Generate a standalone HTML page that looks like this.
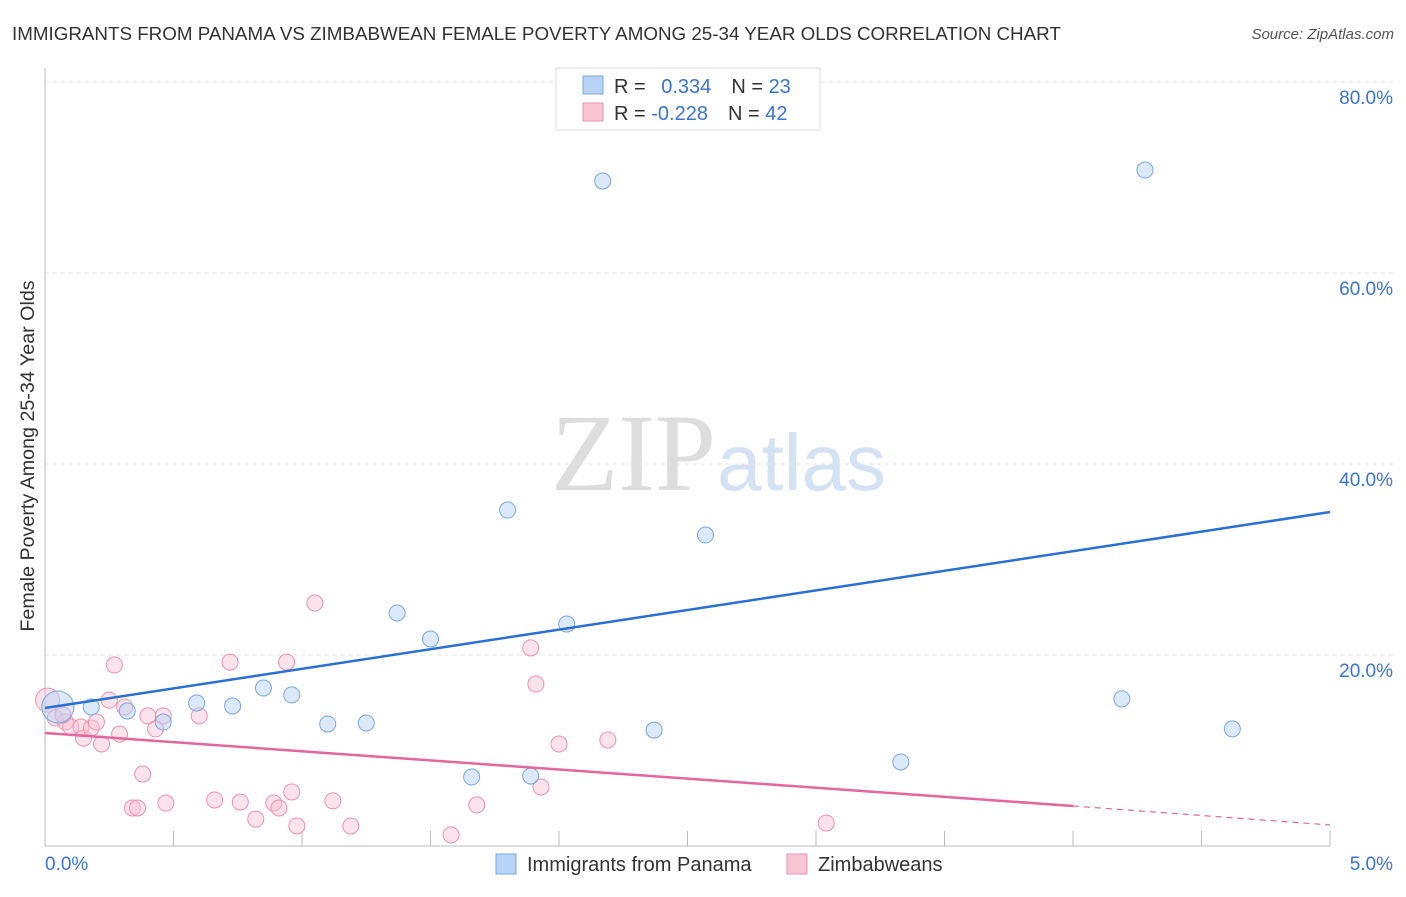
<!DOCTYPE html>
<html><head><meta charset="utf-8"><style>
body{margin:0;background:#fff;font-family:"Liberation Sans",sans-serif;}
</style></head><body>
<svg width="1406" height="892" xmlns="http://www.w3.org/2000/svg" id="svg">
<text x="12" y="40" font-size="18.8" fill="#333">IMMIGRANTS FROM PANAMA VS ZIMBABWEAN FEMALE POVERTY AMONG 25-34 YEAR OLDS CORRELATION CHART</text>
<text x="1394" y="39" font-size="15" fill="#555" font-style="italic" text-anchor="end">Source: ZipAtlas.com</text>
<text x="716" y="490" font-size="110" fill="#ddd" text-anchor="end" font-family="Liberation Serif,serif">ZIP</text>
<text x="717" y="490" font-size="80" fill="#d5e2f3">atlas</text>
<text x="34" y="456" font-size="19.7" fill="#333" text-anchor="middle" transform="rotate(-90 34 456)">Female Poverty Among 25-34 Year Olds</text>
<g id="grid"></g><g id="pts"></g><g id="lines"></g>
<g>
<rect x="556" y="68" width="264" height="62" fill="#fff" stroke="#ddd"/>
<rect x="583" y="76" width="20" height="18" fill="#b8d3f5" stroke="#7aa7e0"/>
<rect x="583" y="103" width="20" height="18" fill="#f9c5d5" stroke="#ec93b0"/>
<text x="614" y="93" font-size="20" fill="#333">R = <tspan fill="#3a74d4" dx="10">0.334</tspan><tspan dx="20" fill="#333">N = </tspan><tspan fill="#3a74d4">23</tspan></text>
<text x="614" y="120" font-size="20" fill="#333">R = <tspan fill="#3a74d4">-0.228</tspan><tspan dx="20" fill="#333">N = </tspan><tspan fill="#3a74d4">42</tspan></text>
</g>
<g>
<rect x="496" y="854" width="20" height="20" fill="#b8d3f5" stroke="#7aa7e0"/>
<text x="527" y="871" font-size="20" fill="#333">Immigrants from Panama</text>
<rect x="787" y="854" width="20" height="20" fill="#f9c5d5" stroke="#ec93b0"/>
<text x="818" y="871" font-size="20" fill="#333">Zimbabweans</text>
</g>
</svg>
<script>
const blueX=[0.05,0.18,0.32,0.46,0.59,0.73,0.85,0.96,1.10,1.25,1.37,1.50,1.66,1.80,1.89,2.03,2.17,2.37,2.57,3.33,4.19,4.28,4.62];
const blueY=[14.56,14.56,14.14,12.98,14.98,14.66,16.54,15.82,12.78,12.88,24.4,21.68,7.22,35.18,7.32,23.24,69.64,12.14,32.56,8.8,15.4,70.78,12.26];
const pinkX=[0.01,0.04,0.08,0.10,0.14,0.15,0.18,0.20,0.22,0.25,0.27,0.29,0.31,0.34,0.36,0.38,0.40,0.43,0.46,0.47,0.60,0.66,0.72,0.76,0.82,0.89,0.91,0.94,0.96,0.98,1.05,1.12,1.19,1.58,1.68,1.89,1.91,1.93,2.00,2.19,3.04,0.07];
const pinkY=[15.28,13.4,12.98,12.46,12.46,11.3,12.36,12.98,10.68,15.28,18.96,11.72,14.56,3.98,3.98,7.54,13.62,12.26,13.62,4.5,13.62,4.82,19.26,4.6,2.82,4.5,3.98,19.26,5.66,2.1,25.44,4.72,2.1,1.16,4.3,20.74,16.96,6.18,10.68,11.1,2.4,13.72];
const yTicks=[20,40,60,80];
const yTickLabels=["20.0%","40.0%","60.0%","80.0%"];
const blueTrend=[14.45,34.97];
const pinkTrend=[11.83,4.19,2.2];
const NS="http://www.w3.org/2000/svg";
const sx=v=>45+v/5*1285, sy=v=>846-v*9.55;
function mk(p,t,a){const e=document.createElementNS(NS,t);for(const k in a)e.setAttribute(k,a[k]);document.getElementById(p).appendChild(e);return e;}
yTicks.forEach((t,i)=>{const l=mk('grid','line',{x1:45,x2:1395,y1:sy(t),y2:sy(t),stroke:'#e4e4e4','stroke-dasharray':'4,4'});

const tx=mk('grid','text',{x:1393,y:sy(t)+22,'font-size':19,fill:'#3a74d4','text-anchor':'end'});tx.textContent=yTickLabels[i];
});
const ax=mk('grid','line',{x1:45,x2:1330,y1:846,y2:846,stroke:'#bbb'});
const ay=mk('grid','line',{x1:45,x2:45,y1:68,y2:846,stroke:'#bbb'});
for(let i=0;i<=10;i++){const t=mk('grid','line',{x1:sx(i*0.5),x2:sx(i*0.5),y1:831,y2:846,stroke:'#bbb'});}
[["0.0%",45,'start'],["5.0%",1393,'end']].forEach(d=>{const t=mk('grid','text',{x:d[1],y:870,'font-size':19,fill:'#3a74d4','text-anchor':d[2]});t.textContent=d[0];});
pinkX.forEach((x,i)=>{const c=mk('pts','circle',{cx:sx(x),cy:sy(pinkY[i]),r:i==0?12:8,fill:'rgba(249,190,210,0.45)',stroke:'#ec93b0'});});
blueX.forEach((x,i)=>{const c=mk('pts','circle',{cx:sx(x),cy:sy(blueY[i]),r:i==0?16:8,fill:'rgba(184,211,245,0.5)',stroke:'#7aa7e0'});});
let l=mk('lines','line',{x1:sx(0),y1:sy(blueTrend[0]),x2:sx(5),y2:sy(blueTrend[1]),stroke:'#2a6fd6','stroke-width':2.5});
l=mk('lines','line',{x1:sx(0),y1:sy(pinkTrend[0]),x2:sx(4),y2:sy(pinkTrend[1]),stroke:'#e5669a','stroke-width':2.5});
l=mk('lines','line',{x1:sx(4),y1:sy(pinkTrend[1]),x2:sx(5),y2:sy(pinkTrend[2]),stroke:'#e5669a','stroke-width':1.2,'stroke-dasharray':'6,5'});
</script>
</body></html>
